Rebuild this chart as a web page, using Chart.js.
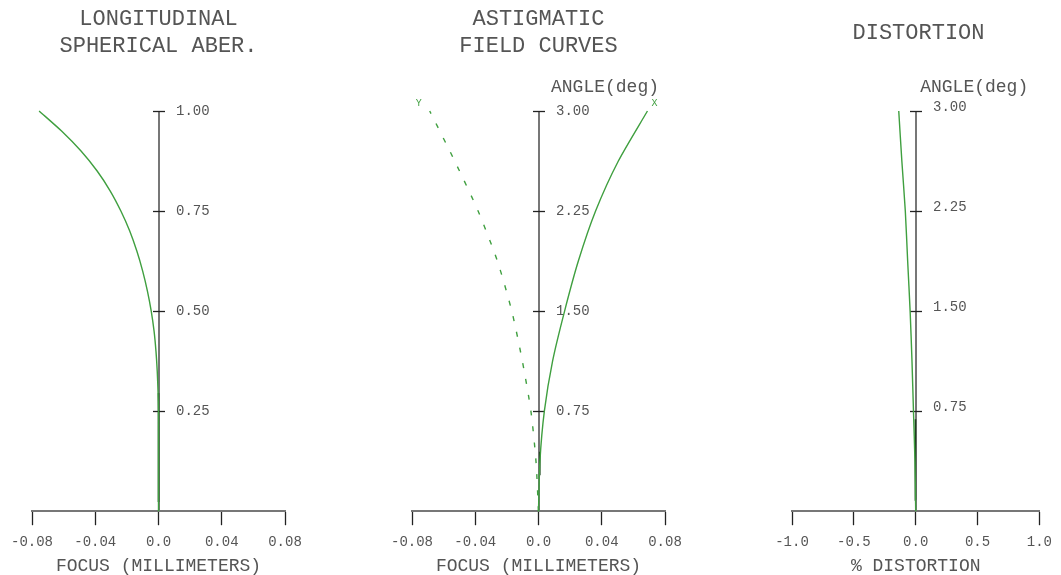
<!DOCTYPE html>
<html>
<head>
<meta charset="utf-8">
<script src="https://cdn.jsdelivr.net/npm/chart.js@4.4.0/dist/chart.umd.min.js"></script>
<style>
    html, body { margin:0; padding:0; background:#fff; }
    #wrap { position:relative; width:1061px; height:575px; }
    .panel { position:absolute; top:0; height:575px; }
    #p1 { left:0; width:354px; }
    #p2 { left:354px; width:354px; }
    #p3 { left:708px; width:353px; }
</style>
</head>
<body>
<div id="wrap">
    <div class="panel" id="p1"><canvas id="c1"></canvas></div>
    <div class="panel" id="p2"><canvas id="c2"></canvas></div>
    <div class="panel" id="p3"><canvas id="c3"></canvas></div>
</div>
<script>
// 구면수차 (pupil height / focus mm)
const sphHeight = [0, 0.1, 0.2, 0.25, 0.3, 0.35, 0.4, 0.45, 0.5, 0.55, 0.6, 0.65, 0.7, 0.75, 0.8, 0.85, 0.9, 0.95, 1.0];
const sphFocus  = [0, 0, 0, 0, -0.0003, -0.0008, -0.0016, -0.0028, -0.0046, -0.0070, -0.0100, -0.0137, -0.0182, -0.0238, -0.0305, -0.0388, -0.0490, -0.0613, -0.0755];
const sphDarkHeight = [0.023, 0.295];
const sphDarkFocus  = [0, 0];

// 비점수차 (angle deg / focus mm)
const fieldAngle = [0, 0.375, 0.75, 1.125, 1.5, 1.875, 2.25, 2.625, 3.0];
const astigX = [0, 0.0009, 0.0037, 0.0089, 0.0165, 0.0252, 0.0361, 0.0505, 0.0689];
const astigY = [0, -0.0016, -0.0048, -0.0102, -0.0169, -0.0260, -0.0382, -0.0530, -0.0688];
const astigDarkAngle = [0.275, 0.445];
const astigDarkFocus = [0.0004, 0.0008];

// 왜곡 (angle deg / %)
const distPct = [0, -0.006, -0.018, -0.030, -0.045, -0.065, -0.084, -0.112, -0.137];
const distDarkAngle = [0.085, 0.69];
const distDarkPct   = [0, -0.002];

// 눈금
const focusTicks = [-0.08, -0.04, 0, 0.04, 0.08];
const focusTickLabels = ['-0.08', '-0.04', '0.0', '0.04', '0.08'];
const distTicks = [-1, -0.5, 0, 0.5, 1];
const distTickLabels = ['-1.0', '-0.5', '0.0', '0.5', '1.0'];
const pupilTicks = [0.25, 0.5, 0.75, 1.0];
const pupilTickLabels = ['0.25', '0.50', '0.75', '1.00'];
const angleTicks = [0.75, 1.5, 2.25, 3.0];
const angleTickLabels = ['0.75', '1.50', '2.25', '3.00'];

const FONT = "'Courier New', 'Liberation Mono', monospace";
const TEXT = '#555';
const GREEN = '#3f9f3f';
const DARK = '#1d3d1d';

Chart.defaults.font.family = FONT;
Chart.defaults.color = TEXT;

const toPoints = (xs, ys) => xs.map((v, i) => ({x: v, y: ys[i]}));

// 가운데 세로축 + 라벨
const centerAxisPlugin = {
    id: 'centerAxis',
    beforeDatasetsDraw(chart, args, opts) {
        const ctx = chart.ctx;
        const xs = chart.scales.x, ys = chart.scales.y;
        const x0 = Math.round(xs.getPixelForValue(0));
        ctx.save();
        ctx.strokeStyle = '#777';
        ctx.lineWidth = 2;
        ctx.beginPath();
        ctx.moveTo(x0, ys.getPixelForValue(ys.min));
        ctx.lineTo(x0, ys.getPixelForValue(ys.max));
        ctx.stroke();

        ctx.strokeStyle = '#222';
        ctx.lineWidth = 1.3;
        ctx.fillStyle = TEXT;
        ctx.font = '14px ' + FONT;
        ctx.textAlign = 'left';
        ctx.textBaseline = 'middle';
        opts.ticks.forEach((v, i) => {
            const y = Math.round(ys.getPixelForValue(v)) + 0.5;
            ctx.beginPath();
            ctx.moveTo(x0 - 6, y);
            ctx.lineTo(x0 + 6, y);
            ctx.stroke();
            ctx.fillText(opts.labels[i], x0 + 17, y + opts.labelDy);
        });
        ctx.restore();
    },
    afterDatasetsDraw(chart, args, opts) {
        const ctx = chart.ctx;
        const xs = chart.scales.x, ys = chart.scales.y;
        ctx.save();
        if (opts.header) {
            ctx.fillStyle = TEXT;
            ctx.font = '18px ' + FONT;
            ctx.textAlign = 'center';
            ctx.textBaseline = 'middle';
            ctx.fillText(opts.header, xs.getPixelForValue(0) + opts.headerDx, ys.getPixelForValue(ys.max) - 24);
        }
        // 곡선 끝 X / Y 표시
        chart.data.datasets.forEach((ds, i) => {
            if (!ds.tag) return;
            const pts = chart.getDatasetMeta(i).data;
            const p = pts[pts.length - 1];
            ctx.fillStyle = GREEN;
            ctx.font = '10px ' + FONT;
            ctx.textAlign = 'center';
            ctx.textBaseline = 'middle';
            ctx.fillText(ds.tag, p.x + ds.tagDx, p.y - 8);
        });
        ctx.restore();
    }
};

let AberChart = function(canvasId) {
    let _self = this;
    let _element = document.getElementById(canvasId);
    let _datasets = [];
    let _opt = {
        animation: false,
        responsive: true,
        maintainAspectRatio: false,
        layout: { padding: { top: 0, bottom: 0, left: 0, right: 0 } },
        plugins: {
            legend: { display: false },
            tooltip: { enabled: false },
            title: {
                display: true,
                color: TEXT,
                font: { size: 22, weight: 'normal', lineHeight: 27 / 22 },
                padding: { top: 5.5, bottom: 51.5 }
            },
            centerAxis: {}
        },
        scales: {
            x: {
                type: 'linear',
                border: { display: true, color: '#777', width: 2 },
                grid: { drawOnChartArea: false, drawTicks: true, tickLength: 14, tickColor: '#222', tickWidth: 1.3 },
                ticks: { color: TEXT, font: { size: 14, lineHeight: 1.2 }, padding: 9, maxRotation: 0 },
                title: { display: true, color: TEXT, font: { size: 18, lineHeight: 1 }, padding: { top: -3, bottom: 0 } }
            },
            y: { type: 'linear', display: false, min: 0 }
        }
    };

    _self.setTitle = function(text, padTop, padBottom) {
        _opt.plugins.title.text = text;
        _opt.plugins.title.padding = { top: padTop, bottom: padBottom };
        return _self;
    };

    _self.setArea = function(left, right) {
        _opt.layout.padding.left = left;
        _opt.layout.padding.right = right;
        return _self;
    };

    _self.setX = function(min, max, ticks, labels, title) {
        const x = _opt.scales.x;
        x.min = min;
        x.max = max;
        x.afterBuildTicks = s => { s.ticks = ticks.map(v => ({ value: v })); };
        x.ticks.callback = (v, i) => labels[i];
        x.title.text = title;
        return _self;
    };

    _self.setY = function(max, ticks, labels, labelDy) {
        _opt.scales.y.max = max;
        _opt.plugins.centerAxis.ticks = ticks;
        _opt.plugins.centerAxis.labels = labels;
        _opt.plugins.centerAxis.labelDy = labelDy || 0;
        return _self;
    };

    _self.setHeader = function(text, dx) {
        _opt.plugins.centerAxis.header = text;
        _opt.plugins.centerAxis.headerDx = dx;
        return _self;
    };

    _self.addLine = function(points, color, extra) {
        _datasets.push(Object.assign({
            data: points,
            showLine: true,
            borderColor: color,
            borderWidth: 1.4,
            pointRadius: 0,
            tension: 0.25,
            clip: false
        }, extra || {}));
        return _self;
    };

    _self.draw = function() {
        new Chart(_element, {
            type: 'scatter',
            data: { datasets: _datasets },
            options: _opt,
            plugins: [centerAxisPlugin]
        });
    };
};

new AberChart('c1')
    .setTitle(['LONGITUDINAL', 'SPHERICAL ABER.'], 5.5, 51.5)
    .setArea(32, 69)
    .setX(-0.08, 0.08, focusTicks, focusTickLabels, 'FOCUS (MILLIMETERS)')
    .setY(1.0, pupilTicks, pupilTickLabels, 0)
    .addLine(toPoints(sphFocus, sphHeight), GREEN)
    .addLine(toPoints(sphDarkFocus, sphDarkHeight), DARK, { borderWidth: 1.6, tension: 0 })
    .draw();

new AberChart('c2')
    .setTitle(['ASTIGMATIC', 'FIELD CURVES'], 5.5, 51.5)
    .setArea(58, 43)
    .setX(-0.08, 0.08, focusTicks, focusTickLabels, 'FOCUS (MILLIMETERS)')
    .setY(3.0, angleTicks, angleTickLabels, 0)
    .setHeader('ANGLE(deg)', 66.5)
    .addLine(toPoints(astigX, fieldAngle), GREEN, { tag: 'X', tagDx: 7 })
    .addLine(toPoints(astigY, fieldAngle), GREEN, { tag: 'Y', tagDx: -11, borderDash: [5, 11] })
    .addLine(toPoints(astigDarkFocus, astigDarkAngle), DARK, { borderWidth: 1.6, tension: 0 })
    .draw();

new AberChart('c3')
    .setTitle('DISTORTION', 19.5, 64.5)
    .setArea(84, 16)
    .setX(-1, 1, distTicks, distTickLabels, '% DISTORTION')
    .setY(3.0, angleTicks, angleTickLabels, -4.5)
    .setHeader('ANGLE(deg)', 58.5)
    .addLine(toPoints(distPct, fieldAngle), GREEN)
    .addLine(toPoints(distDarkPct, distDarkAngle), DARK, { borderWidth: 1.6, tension: 0 })
    .draw();
</script>
</body>
</html>
